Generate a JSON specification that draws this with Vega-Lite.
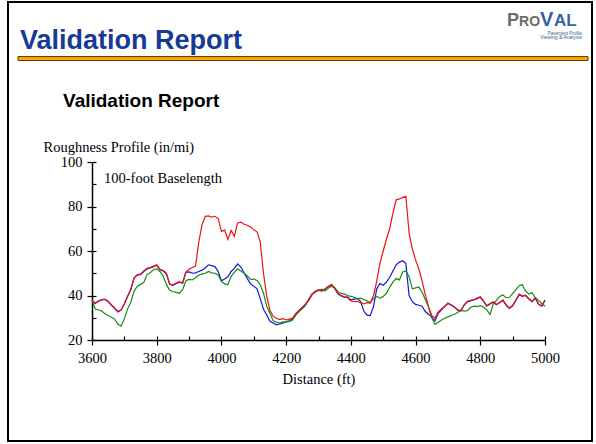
{
  "$schema": "https://vega.github.io/schema/vega-lite/v6.json",
  "width": 453,
  "height": 178,
  "autosize": {"type": "none"},
  "padding": {"left": 92, "top": 162, "right": 51, "bottom": 104},
  "background": "white",
  "config": {"view": {"stroke": null}, "font": "Liberation Serif"},
  "datasets": {
    "profiles": [
      {"Distance": 3600, "Run 1": 38.0, "Run 2": 37.8, "Run 3": 38.0},
      {"Distance": 3610, "Run 1": 36.6, "Run 2": 36.4, "Run 3": 33.9},
      {"Distance": 3620, "Run 1": 37.6, "Run 2": 37.4, "Run 3": 33.6},
      {"Distance": 3630, "Run 1": 38.2, "Run 2": 38.0, "Run 3": 33.0},
      {"Distance": 3640, "Run 1": 38.4, "Run 2": 38.2, "Run 3": 31.8},
      {"Distance": 3650, "Run 1": 37.4, "Run 2": 37.2, "Run 3": 31.0},
      {"Distance": 3660, "Run 1": 35.8, "Run 2": 35.6, "Run 3": 30.2},
      {"Distance": 3670, "Run 1": 34.4, "Run 2": 34.2, "Run 3": 29.4},
      {"Distance": 3680, "Run 1": 32.8, "Run 2": 32.6, "Run 3": 27.2},
      {"Distance": 3690, "Run 1": 33.6, "Run 2": 33.4, "Run 3": 26.2},
      {"Distance": 3700, "Run 1": 36.4, "Run 2": 36.2, "Run 3": 29.5},
      {"Distance": 3710, "Run 1": 39.8, "Run 2": 39.6, "Run 3": 34.0},
      {"Distance": 3720, "Run 1": 42.8, "Run 2": 42.6, "Run 3": 37.0},
      {"Distance": 3730, "Run 1": 48.0, "Run 2": 47.8, "Run 3": 42.0},
      {"Distance": 3740, "Run 1": 49.4, "Run 2": 49.2, "Run 3": 44.2},
      {"Distance": 3750, "Run 1": 49.6, "Run 2": 49.4, "Run 3": 45.0},
      {"Distance": 3760, "Run 1": 51.0, "Run 2": 50.8, "Run 3": 45.8},
      {"Distance": 3770, "Run 1": 52.2, "Run 2": 52.0, "Run 3": 49.4},
      {"Distance": 3780, "Run 1": 52.6, "Run 2": 52.4, "Run 3": 50.2},
      {"Distance": 3790, "Run 1": 53.2, "Run 2": 53.0, "Run 3": 51.6},
      {"Distance": 3800, "Run 1": 53.8, "Run 2": 53.6, "Run 3": 52.0},
      {"Distance": 3810, "Run 1": 51.8, "Run 2": 51.6, "Run 3": 50.8},
      {"Distance": 3820, "Run 1": 51.2, "Run 2": 51.0, "Run 3": 48.6},
      {"Distance": 3830, "Run 1": 50.0, "Run 2": 49.8, "Run 3": 45.0},
      {"Distance": 3840, "Run 1": 45.2, "Run 2": 45.0, "Run 3": 42.3},
      {"Distance": 3850, "Run 1": 44.8, "Run 2": 44.6, "Run 3": 41.8},
      {"Distance": 3860, "Run 1": 45.6, "Run 2": 45.4, "Run 3": 41.4},
      {"Distance": 3870, "Run 1": 46.2, "Run 2": 46.0, "Run 3": 41.0},
      {"Distance": 3880, "Run 1": 45.4, "Run 2": 45.6, "Run 3": 42.6},
      {"Distance": 3890, "Run 1": 50.4, "Run 2": 50.4, "Run 3": 46.6},
      {"Distance": 3900, "Run 1": 51.8, "Run 2": 50.6, "Run 3": 47.2},
      {"Distance": 3910, "Run 1": 52.6, "Run 2": 50.0, "Run 3": 47.0},
      {"Distance": 3920, "Run 1": 53.2, "Run 2": 50.2, "Run 3": 48.0},
      {"Distance": 3930, "Run 1": 64.0, "Run 2": 50.8, "Run 3": 49.2},
      {"Distance": 3940, "Run 1": 71.8, "Run 2": 51.4, "Run 3": 49.6},
      {"Distance": 3950, "Run 1": 75.6, "Run 2": 52.4, "Run 3": 50.0},
      {"Distance": 3960, "Run 1": 75.8, "Run 2": 53.8, "Run 3": 50.8},
      {"Distance": 3970, "Run 1": 75.2, "Run 2": 53.4, "Run 3": 50.2},
      {"Distance": 3980, "Run 1": 75.6, "Run 2": 53.0, "Run 3": 50.0},
      {"Distance": 3990, "Run 1": 74.6, "Run 2": 50.8, "Run 3": 49.2},
      {"Distance": 4000, "Run 1": 68.8, "Run 2": 46.6, "Run 3": 46.4},
      {"Distance": 4010, "Run 1": 69.4, "Run 2": 47.4, "Run 3": 45.2},
      {"Distance": 4020, "Run 1": 65.2, "Run 2": 48.4, "Run 3": 44.8},
      {"Distance": 4030, "Run 1": 69.2, "Run 2": 50.8, "Run 3": 48.6},
      {"Distance": 4040, "Run 1": 66.6, "Run 2": 52.2, "Run 3": 50.4},
      {"Distance": 4050, "Run 1": 72.6, "Run 2": 54.2, "Run 3": 52.0},
      {"Distance": 4060, "Run 1": 73.0, "Run 2": 52.8, "Run 3": 51.0},
      {"Distance": 4070, "Run 1": 72.0, "Run 2": 50.2, "Run 3": 50.0},
      {"Distance": 4080, "Run 1": 71.6, "Run 2": 47.6, "Run 3": 48.8},
      {"Distance": 4090, "Run 1": 70.8, "Run 2": 45.2, "Run 3": 47.2},
      {"Distance": 4100, "Run 1": 69.6, "Run 2": 44.2, "Run 3": 47.4},
      {"Distance": 4110, "Run 1": 68.6, "Run 2": 43.0, "Run 3": 46.8},
      {"Distance": 4120, "Run 1": 64.0, "Run 2": 38.6, "Run 3": 44.8},
      {"Distance": 4130, "Run 1": 50.0, "Run 2": 33.8, "Run 3": 41.0},
      {"Distance": 4140, "Run 1": 39.6, "Run 2": 31.2, "Run 3": 35.2},
      {"Distance": 4150, "Run 1": 33.4, "Run 2": 28.4, "Run 3": 32.0},
      {"Distance": 4160, "Run 1": 30.6, "Run 2": 27.6, "Run 3": 28.6},
      {"Distance": 4170, "Run 1": 29.8, "Run 2": 26.8, "Run 3": 28.0},
      {"Distance": 4180, "Run 1": 29.2, "Run 2": 27.2, "Run 3": 27.6},
      {"Distance": 4190, "Run 1": 29.6, "Run 2": 27.6, "Run 3": 28.2},
      {"Distance": 4200, "Run 1": 29.0, "Run 2": 28.2, "Run 3": 28.0},
      {"Distance": 4210, "Run 1": 29.4, "Run 2": 28.6, "Run 3": 28.4},
      {"Distance": 4220, "Run 1": 29.8, "Run 2": 29.4, "Run 3": 29.0},
      {"Distance": 4230, "Run 1": 32.0, "Run 2": 31.6, "Run 3": 31.2},
      {"Distance": 4240, "Run 1": 33.4, "Run 2": 33.2, "Run 3": 32.8},
      {"Distance": 4250, "Run 1": 34.4, "Run 2": 34.8, "Run 3": 34.0},
      {"Distance": 4260, "Run 1": 36.2, "Run 2": 36.0, "Run 3": 35.6},
      {"Distance": 4270, "Run 1": 38.2, "Run 2": 37.8, "Run 3": 38.4},
      {"Distance": 4280, "Run 1": 40.8, "Run 2": 40.4, "Run 3": 40.4},
      {"Distance": 4290, "Run 1": 41.8, "Run 2": 41.6, "Run 3": 42.0},
      {"Distance": 4300, "Run 1": 42.6, "Run 2": 42.4, "Run 3": 42.2},
      {"Distance": 4310, "Run 1": 42.2, "Run 2": 42.0, "Run 3": 42.8},
      {"Distance": 4320, "Run 1": 43.0, "Run 2": 42.8, "Run 3": 42.0},
      {"Distance": 4330, "Run 1": 44.0, "Run 2": 43.8, "Run 3": 43.2},
      {"Distance": 4340, "Run 1": 45.0, "Run 2": 44.8, "Run 3": 44.2},
      {"Distance": 4350, "Run 1": 43.4, "Run 2": 43.2, "Run 3": 43.4},
      {"Distance": 4360, "Run 1": 41.0, "Run 2": 40.8, "Run 3": 41.8},
      {"Distance": 4370, "Run 1": 40.0, "Run 2": 39.8, "Run 3": 41.0},
      {"Distance": 4380, "Run 1": 39.4, "Run 2": 39.2, "Run 3": 40.6},
      {"Distance": 4390, "Run 1": 39.0, "Run 2": 39.4, "Run 3": 40.0},
      {"Distance": 4400, "Run 1": 37.6, "Run 2": 38.0, "Run 3": 39.6},
      {"Distance": 4410, "Run 1": 37.2, "Run 2": 38.4, "Run 3": 39.2},
      {"Distance": 4420, "Run 1": 37.4, "Run 2": 38.6, "Run 3": 38.6},
      {"Distance": 4430, "Run 1": 36.8, "Run 2": 37.4, "Run 3": 38.8},
      {"Distance": 4440, "Run 1": 36.2, "Run 2": 33.0, "Run 3": 38.2},
      {"Distance": 4450, "Run 1": 36.8, "Run 2": 31.2, "Run 3": 37.6},
      {"Distance": 4460, "Run 1": 36.6, "Run 2": 31.0, "Run 3": 36.8},
      {"Distance": 4470, "Run 1": 40.0, "Run 2": 35.0, "Run 3": 38.6},
      {"Distance": 4480, "Run 1": 46.5, "Run 2": 43.0, "Run 3": 39.6},
      {"Distance": 4490, "Run 1": 54.5, "Run 2": 45.4, "Run 3": 38.8},
      {"Distance": 4500, "Run 1": 60.0, "Run 2": 44.6, "Run 3": 39.6},
      {"Distance": 4510, "Run 1": 65.4, "Run 2": 46.0, "Run 3": 41.0},
      {"Distance": 4520, "Run 1": 70.0, "Run 2": 48.2, "Run 3": 43.8},
      {"Distance": 4530, "Run 1": 77.0, "Run 2": 51.0, "Run 3": 46.0},
      {"Distance": 4540, "Run 1": 83.0, "Run 2": 53.8, "Run 3": 47.6},
      {"Distance": 4550, "Run 1": 83.4, "Run 2": 55.0, "Run 3": 47.0},
      {"Distance": 4560, "Run 1": 84.0, "Run 2": 55.6, "Run 3": 50.6},
      {"Distance": 4570, "Run 1": 84.6, "Run 2": 54.4, "Run 3": 51.0},
      {"Distance": 4580, "Run 1": 68.0, "Run 2": 40.0, "Run 3": 48.4},
      {"Distance": 4590, "Run 1": 61.0, "Run 2": 37.2, "Run 3": 43.0},
      {"Distance": 4600, "Run 1": 56.0, "Run 2": 36.0, "Run 3": 43.4},
      {"Distance": 4610, "Run 1": 52.0, "Run 2": 35.6, "Run 3": 43.8},
      {"Distance": 4620, "Run 1": 46.6, "Run 2": 35.2, "Run 3": 41.6},
      {"Distance": 4630, "Run 1": 40.4, "Run 2": 32.8, "Run 3": 38.2},
      {"Distance": 4640, "Run 1": 35.0, "Run 2": 31.6, "Run 3": 34.8},
      {"Distance": 4650, "Run 1": 31.0, "Run 2": 30.2, "Run 3": 30.0},
      {"Distance": 4660, "Run 1": 29.8, "Run 2": 28.6, "Run 3": 27.0},
      {"Distance": 4670, "Run 1": 32.6, "Run 2": 32.0, "Run 3": 28.0},
      {"Distance": 4680, "Run 1": 34.0, "Run 2": 33.6, "Run 3": 29.0},
      {"Distance": 4690, "Run 1": 35.2, "Run 2": 35.0, "Run 3": 29.8},
      {"Distance": 4700, "Run 1": 36.6, "Run 2": 36.4, "Run 3": 30.4},
      {"Distance": 4710, "Run 1": 35.8, "Run 2": 35.6, "Run 3": 31.0},
      {"Distance": 4720, "Run 1": 35.0, "Run 2": 34.8, "Run 3": 31.6},
      {"Distance": 4730, "Run 1": 33.6, "Run 2": 33.4, "Run 3": 32.4},
      {"Distance": 4740, "Run 1": 33.2, "Run 2": 33.0, "Run 3": 33.4},
      {"Distance": 4750, "Run 1": 35.8, "Run 2": 35.6, "Run 3": 33.0},
      {"Distance": 4760, "Run 1": 37.4, "Run 2": 37.2, "Run 3": 33.2},
      {"Distance": 4770, "Run 1": 37.8, "Run 2": 37.6, "Run 3": 34.6},
      {"Distance": 4780, "Run 1": 38.2, "Run 2": 38.0, "Run 3": 35.2},
      {"Distance": 4790, "Run 1": 38.8, "Run 2": 38.6, "Run 3": 35.0},
      {"Distance": 4800, "Run 1": 39.4, "Run 2": 39.2, "Run 3": 35.4},
      {"Distance": 4810, "Run 1": 37.6, "Run 2": 37.4, "Run 3": 34.8},
      {"Distance": 4820, "Run 1": 35.4, "Run 2": 35.2, "Run 3": 33.6},
      {"Distance": 4830, "Run 1": 36.4, "Run 2": 36.2, "Run 3": 31.4},
      {"Distance": 4840, "Run 1": 37.2, "Run 2": 37.0, "Run 3": 36.0},
      {"Distance": 4850, "Run 1": 36.0, "Run 2": 35.8, "Run 3": 37.8},
      {"Distance": 4860, "Run 1": 37.0, "Run 2": 36.8, "Run 3": 39.6},
      {"Distance": 4870, "Run 1": 38.0, "Run 2": 37.8, "Run 3": 40.2},
      {"Distance": 4880, "Run 1": 35.8, "Run 2": 35.6, "Run 3": 39.0},
      {"Distance": 4890, "Run 1": 34.4, "Run 2": 34.2, "Run 3": 39.2},
      {"Distance": 4900, "Run 1": 35.6, "Run 2": 35.4, "Run 3": 40.8},
      {"Distance": 4910, "Run 1": 38.0, "Run 2": 37.8, "Run 3": 42.6},
      {"Distance": 4920, "Run 1": 40.6, "Run 2": 40.4, "Run 3": 44.4},
      {"Distance": 4930, "Run 1": 39.8, "Run 2": 39.6, "Run 3": 44.8},
      {"Distance": 4940, "Run 1": 40.2, "Run 2": 40.0, "Run 3": 42.0},
      {"Distance": 4950, "Run 1": 38.6, "Run 2": 38.4, "Run 3": 40.6},
      {"Distance": 4960, "Run 1": 37.4, "Run 2": 37.2, "Run 3": 41.2},
      {"Distance": 4970, "Run 1": 39.0, "Run 2": 38.8, "Run 3": 39.0},
      {"Distance": 4980, "Run 1": 36.2, "Run 2": 36.0, "Run 3": 37.8},
      {"Distance": 4990, "Run 1": 35.4, "Run 2": 35.2, "Run 3": 36.4},
      {"Distance": 5000, "Run 1": 38.0, "Run 2": 37.8, "Run 3": 35.2}
    ]
  },
  "layer": [
    {
      "data": {"name": "profiles"},
      "transform": [{"fold": ["Run 2"], "as": ["Run", "IRI"]}],
      "mark": {"type": "line", "strokeWidth": 1.2},
      "encoding": {
        "x": {"field": "Distance", "type": "quantitative", "scale": {"domain": [3600, 5000], "nice": false, "zero": false},
          "axis": {"orient": "bottom", "values": [3600, 3800, 4000, 4200, 4400, 4600, 4800, 5000], "format": "d", "grid": false, "tickSize": 5, "tickWidth": 1.2, "tickColor": "black", "domainColor": "black", "domainWidth": 1.5, "labelFont": "Liberation Serif", "labelFontSize": 14.5, "labelColor": "black", "labelPadding": 6, "labelFlush": false, "labelOverlap": false, "title": "Distance (ft)", "titleFont": "Liberation Serif", "titleFontSize": 14.5, "titleFontWeight": "normal", "titleColor": "black", "titleY": 43, "titleBaseline": "alphabetic"}},
        "y": {"field": "IRI", "type": "quantitative", "scale": {"domain": [20, 100], "nice": false, "zero": false},
          "axis": {"orient": "left", "values": [20, 40, 60, 80, 100], "format": "d", "grid": false, "tickSize": 5, "tickWidth": 1.2, "tickColor": "black", "domainColor": "black", "domainWidth": 1.5, "labelFont": "Liberation Serif", "labelFontSize": 14.5, "labelColor": "black", "labelPadding": 5, "labelFlush": false, "labelOverlap": false, "title": "Roughness Profile (in/mi)", "titleFont": "Liberation Serif", "titleFontSize": 14.5, "titleFontWeight": "normal", "titleColor": "black", "titleAngle": 0, "titleAlign": "left", "titleBaseline": "alphabetic", "titleX": -49, "titleY": -11}},
        "color": {"field": "Run", "type": "nominal", "scale": {"domain": ["Run 1", "Run 2", "Run 3"], "range": ["#ee1111", "#1414dd", "#138c13"]}, "legend": null}
      }
    },
    {
      "data": {"name": "profiles"},
      "transform": [{"fold": ["Run 3"], "as": ["Run", "IRI"]}],
      "mark": {"type": "line", "strokeWidth": 1.2},
      "encoding": {
        "x": {"field": "Distance", "type": "quantitative", "scale": {"domain": [3600, 5000], "nice": false, "zero": false},
          "axis": {"orient": "bottom", "values": [3600, 3700, 3800, 3900, 4000, 4100, 4200, 4300, 4400, 4500, 4600, 4700, 4800, 4900, 5000], "offset": -4, "tickSize": 4, "tickWidth": 1.2, "tickColor": "black", "domain": false, "labels": false, "grid": false, "title": null}},
        "y": {"field": "IRI", "type": "quantitative", "scale": {"domain": [20, 100], "nice": false, "zero": false},
          "axis": {"orient": "left", "values": [20, 30, 40, 50, 60, 70, 80, 90, 100], "offset": -4, "tickSize": 4, "tickWidth": 1.2, "tickColor": "black", "domain": false, "labels": false, "grid": false, "title": null}},
        "color": {"field": "Run", "type": "nominal", "scale": {"domain": ["Run 1", "Run 2", "Run 3"], "range": ["#ee1111", "#1414dd", "#138c13"]}, "legend": null}
      }
    },
    {
      "data": {"name": "profiles"},
      "transform": [{"fold": ["Run 1"], "as": ["Run", "IRI"]}],
      "mark": {"type": "line", "strokeWidth": 1.2},
      "encoding": {
        "x": {"field": "Distance", "type": "quantitative", "scale": {"domain": [3600, 5000], "nice": false, "zero": false}, "axis": null},
        "y": {"field": "IRI", "type": "quantitative", "scale": {"domain": [20, 100], "nice": false, "zero": false}, "axis": null},
        "color": {"field": "Run", "type": "nominal", "scale": {"domain": ["Run 1", "Run 2", "Run 3"], "range": ["#ee1111", "#1414dd", "#138c13"]}, "legend": null}
      }
    },
    {
      "data": {"values": [{}]},
      "mark": {"type": "text", "align": "left", "baseline": "alphabetic", "font": "Liberation Serif", "fontSize": 14.5, "color": "black"},
      "encoding": {
        "x": {"datum": 3637, "type": "quantitative", "scale": {"domain": [3600, 5000], "nice": false, "zero": false}, "axis": null},
        "y": {"datum": 90.6, "type": "quantitative", "scale": {"domain": [20, 100], "nice": false, "zero": false}, "axis": null},
        "text": {"value": "100-foot Baselength"}
      }
    },
    {
      "data": {"values": [{}]},
      "mark": {"type": "text", "align": "left", "baseline": "alphabetic", "font": "Liberation Sans", "fontSize": 19, "fontWeight": "bold", "color": "black"},
      "encoding": {
        "x": {"datum": 3510.4, "type": "quantitative", "scale": {"domain": [3600, 5000], "nice": false, "zero": false}, "axis": null},
        "y": {"datum": 124.5, "type": "quantitative", "scale": {"domain": [20, 100], "nice": false, "zero": false}, "axis": null},
        "text": {"value": "Validation Report"}
      }
    },
    {
      "data": {"values": [{}]},
      "mark": {"type": "rect", "fillOpacity": 0, "stroke": "black", "strokeWidth": 2},
      "encoding": {
        "x": {"datum": 3340.4, "type": "quantitative", "scale": {"domain": [3600, 5000], "nice": false, "zero": false}, "axis": null},
        "x2": {"datum": 5145.3},
        "y": {"datum": 171.9, "type": "quantitative", "scale": {"domain": [20, 100], "nice": false, "zero": false}, "axis": null},
        "y2": {"datum": -25.4}
      }
    },
    {
      "data": {"values": [{}]},
      "mark": {"type": "rect", "fill": "#FFA500", "stroke": "#5c3d00", "strokeWidth": 1},
      "encoding": {
        "x": {"datum": 3371.3, "type": "quantitative", "scale": {"domain": [3600, 5000], "nice": false, "zero": false}, "axis": null},
        "x2": {"datum": 5132.9},
        "y": {"datum": 147.4, "type": "quantitative", "scale": {"domain": [20, 100], "nice": false, "zero": false}, "axis": null},
        "y2": {"datum": 145.6}
      }
    },
    {
      "data": {"values": [{}]},
      "mark": {"type": "text", "align": "left", "baseline": "alphabetic", "font": "Liberation Sans", "fontSize": 27, "fontWeight": "bold", "color": "#173a96"},
      "encoding": {
        "x": {"datum": 3377.5, "type": "quantitative", "scale": {"domain": [3600, 5000], "nice": false, "zero": false}, "axis": null},
        "y": {"datum": 150.8, "type": "quantitative", "scale": {"domain": [20, 100], "nice": false, "zero": false}, "axis": null},
        "text": {"value": "Validation Report"}
      }
    },
    {
      "data": {"values": [{}]},
      "mark": {"type": "text", "align": "left", "baseline": "alphabetic", "font": "Liberation Sans", "fontSize": 18, "fontWeight": "bold", "color": "#6b6b6b"},
      "encoding": {
        "x": {"datum": 4882.6, "type": "quantitative", "scale": {"domain": [3600, 5000], "nice": false, "zero": false}, "axis": null},
        "y": {"datum": 160.9, "type": "quantitative", "scale": {"domain": [20, 100], "nice": false, "zero": false}, "axis": null},
        "text": {"value": "P"}
      }
    },
    {
      "data": {"values": [{}]},
      "mark": {"type": "text", "align": "left", "baseline": "alphabetic", "font": "Liberation Sans", "fontSize": 14, "fontWeight": "bold", "color": "#6b6b6b"},
      "encoding": {
        "x": {"datum": 4919.7, "type": "quantitative", "scale": {"domain": [3600, 5000], "nice": false, "zero": false}, "axis": null},
        "y": {"datum": 160.9, "type": "quantitative", "scale": {"domain": [20, 100], "nice": false, "zero": false}, "axis": null},
        "text": {"value": "RO"}
      }
    },
    {
      "data": {"values": [{}]},
      "mark": {"type": "text", "align": "left", "baseline": "alphabetic", "font": "Liberation Sans", "fontSize": 20, "fontWeight": "bold", "color": "#3563a8"},
      "encoding": {
        "x": {"datum": 4984.6, "type": "quantitative", "scale": {"domain": [3600, 5000], "nice": false, "zero": false}, "axis": null},
        "y": {"datum": 160.9, "type": "quantitative", "scale": {"domain": [20, 100], "nice": false, "zero": false}, "axis": null},
        "text": {"value": "V"}
      }
    },
    {
      "data": {"values": [{}]},
      "mark": {"type": "text", "align": "left", "baseline": "alphabetic", "font": "Liberation Sans", "fontSize": 17, "fontWeight": "bold", "color": "#3563a8"},
      "encoding": {
        "x": {"datum": 5027.9, "type": "quantitative", "scale": {"domain": [3600, 5000], "nice": false, "zero": false}, "axis": null},
        "y": {"datum": 160.9, "type": "quantitative", "scale": {"domain": [20, 100], "nice": false, "zero": false}, "axis": null},
        "text": {"value": "AL"}
      }
    },
    {
      "data": {"values": [{}]},
      "mark": {"type": "text", "align": "right", "baseline": "alphabetic", "font": "Liberation Sans", "fontSize": 4.5, "color": "#3d5d8f"},
      "encoding": {
        "x": {"datum": 5114.4, "type": "quantitative", "scale": {"domain": [3600, 5000], "nice": false, "zero": false}, "axis": null},
        "y": {"datum": 157.3, "type": "quantitative", "scale": {"domain": [20, 100], "nice": false, "zero": false}, "axis": null},
        "text": {"value": "Pavement Profile"}
      }
    },
    {
      "data": {"values": [{}]},
      "mark": {"type": "text", "align": "right", "baseline": "alphabetic", "font": "Liberation Sans", "fontSize": 5, "color": "#3d5d8f"},
      "encoding": {
        "x": {"datum": 5114.4, "type": "quantitative", "scale": {"domain": [3600, 5000], "nice": false, "zero": false}, "axis": null},
        "y": {"datum": 155.1, "type": "quantitative", "scale": {"domain": [20, 100], "nice": false, "zero": false}, "axis": null},
        "text": {"value": "Viewing & Analysis"}
      }
    }
  ],
  "resolve": {"axis": {"x": "independent", "y": "independent"}}
}
